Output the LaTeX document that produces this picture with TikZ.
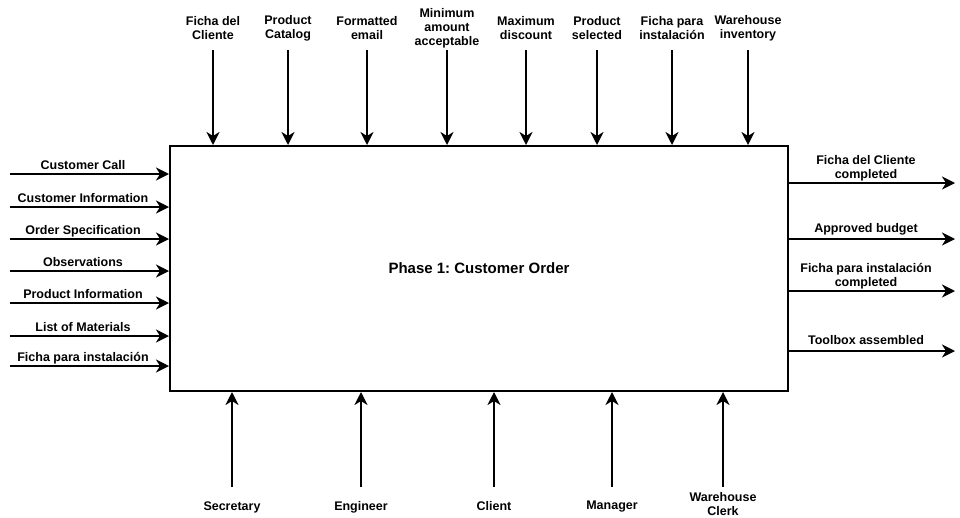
\documentclass[tikz,border=0pt]{standalone}
\usepackage{fontspec}
\setmainfont{Liberation Sans}
\usetikzlibrary{arrows.meta,positioning}
\frenchspacing
\begin{document}
\begin{tikzpicture}[x=1pt,y=-1pt,>={Stealth[length=13pt,width=13pt,inset=4pt]},
	flow/.style={->,line width=2pt},
	lab/.style={font=\fontsize{12.5}{14}\selectfont\bfseries,align=center,inner sep=0pt},
	phasebox/.style={draw,line width=2pt,minimum width=618pt,minimum height=245pt,font=\fontsize{15}{18}\selectfont\bfseries}]
			\def\topy{50}
			\def\boty{487}
			\useasboundingbox (0,0) rectangle (960,517);
			\node[phasebox] (phase) at (479,268.5) {Phase 1: Customer Order};
			% Entradas (izquierda)
			\foreach \y/\t [count=\i] in {174/Customer Call,207/Customer Information,239/Order Specification,271/Observations,303/Product Information,336/List of Materials,366/Ficha para instalación}{
				\coordinate (in\i) at (10,\y);
				\draw[flow] (in\i) -- (in\i -| phase.west);
				\node[lab,anchor=base] (inlab\i) at (83,\y-5) {\t};
			}
			% Controles (arriba)
			\foreach \x/\t [count=\i] in {213/{Ficha del\\Cliente},288/{Product\\Catalog},367/{Formatted\\email},447/{Minimum\\amount\\acceptable},526/{Maximum\\discount},597/{Product\\selected},672/{Ficha para\\instalación},748/{Warehouse\\inventory}}{
				\coordinate (ctl\i) at (\x,\topy);
				\draw[flow] (ctl\i) -- (ctl\i |- phase.north);
				\node[lab] (ctllab\i) at (\x,28) {\t};
			}
			% Mecanismos (abajo)
			\foreach \x/\d/\t [count=\i] in {232/507/Secretary,361/507/Engineer,494/506.5/Client,612/507/Manager,723/504/{Warehouse\\Clerk}}{
				\coordinate (mec\i) at (\x,\boty);
				\draw[flow] (mec\i) -- (mec\i |- phase.south);
				\node[lab] (meclab\i) at (\x,\d) {\t};
			}
			% Salidas (derecha)
			\foreach \y/\d/\t [count=\i] in {183/2/{Ficha del Cliente\\completed},239/4/Approved budget,291/2/{Ficha para instalación\\completed},351/6/Toolbox assembled}{
				\coordinate (out\i) at (955,\y);
				\draw[flow] (out\i -| phase.east) -- (out\i);
				\node[lab,anchor=south] (outlab\i) at (866,\y-\d) {\t};
			}
\end{tikzpicture}
\end{document}
